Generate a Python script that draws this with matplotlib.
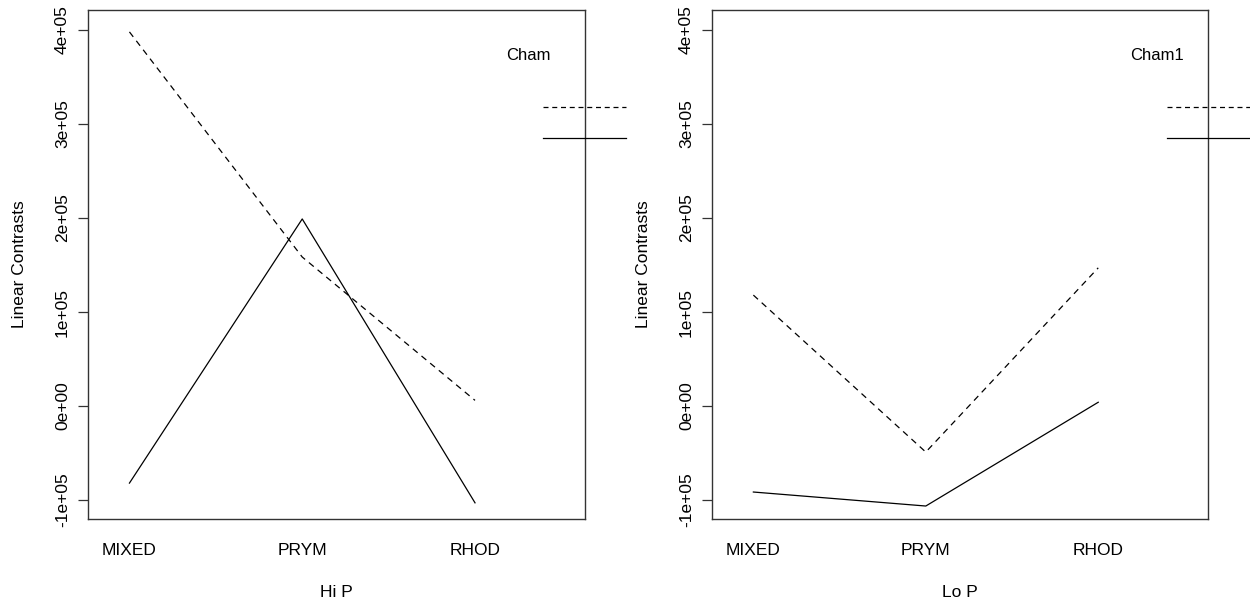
import numpy as np
import matplotlib
matplotlib.use('Agg')
from matplotlib import pyplot as plt
from matplotlib.lines import Line2D

# data (interaction plot, two panels)
groups = ['MIXED', 'PRYM', 'RHOD']
panels = ['Hi P', 'Lo P']
legend_titles = ['Cham', 'Cham1']
hi_solid = [-0.82e5, 1.99e5, -1.03e5]
hi_dashed = [3.98e5, 1.585e5, 0.06e5]
lo_solid = [-0.915e5, -1.064e5, 0.04e5]
lo_dashed = [1.18e5, -0.49e5, 1.47e5]
yticks = [-1e5, 0, 1e5, 2e5, 3e5, 4e5]
ytick_labels = ['-1e+05', '0e+00', '1e+05', '2e+05', '3e+05', '4e+05']

plt.rcParams['font.family'] = ['Liberation Sans', 'DejaVu Sans']

W, H = 1250, 603
fig = plt.figure(figsize=(W / 100, H / 100), dpi=100)

def fx(px):
    return px / W

def fy(py):
    return 1 - py / H

# axes boxes in pixel coords (left, top, right, bottom)
boxes = [(88, 10, 585, 519), (712, 10, 1208, 519)]
legend_x0 = [543, 1167]
legend_x1 = [626, 1250]

ylim = (-1.202e5, 4.213e5)

# x range like R interaction.plot: extended on the right for the legend
xv = np.arange(1, len(groups) + 1)
xl = np.array([1 - 0.2 / 3 * 2, 3.53])
xr = xl[1] - xl[0]
xlim = (xl[0] - 0.04 * xr, xl[1] + 0.04 * xr)

series = [(hi_solid, hi_dashed), (lo_solid, lo_dashed)]
for i, (l, t, rgt, b) in enumerate(boxes):
    ax = fig.add_axes([fx(l), fy(b), fx(rgt) - fx(l), fy(t) - fy(b)])
    solid, dashed = series[i]
    ax.plot(xv, dashed, color='black', lw=0.9, ls=(0, (5, 4)))
    ax.plot(xv, solid, color='black', lw=0.9)
    ax.set_xlim(xlim)
    ax.set_ylim(ylim)
    for s in ax.spines.values():
        s.set_color('#333333')
        s.set_linewidth(1.0)
    ax.set_yticks(yticks)
    ax.set_yticklabels(ytick_labels, rotation=90, va='center', fontsize=12.5)
    ax.tick_params(axis='y', length=7, width=0.9, pad=6, color='#333333')
    ax.set_xticks(xv)
    ax.set_xticklabels(groups, fontsize=12.5)
    ax.tick_params(axis='x', length=0, pad=17)
    ax.set_xlabel(panels[i], fontsize=12.5, labelpad=20)
    ax.set_ylabel('Linear Contrasts', fontsize=12.5, labelpad=20)

    # legend: title and line samples, partly outside the box
    fig.text(fx(legend_x0[i] - 37), fy(55), legend_titles[i], fontsize=12, va='center')
    fig.add_artist(Line2D([fx(legend_x0[i]), fx(legend_x1[i])], [fy(107), fy(107)],
                          color='black', lw=0.9, ls=(0, (4, 3))))
    fig.add_artist(Line2D([fx(legend_x0[i]), fx(legend_x1[i])], [fy(138), fy(138)],
                          color='black', lw=0.9))

fig.savefig('out.png', dpi=100)
